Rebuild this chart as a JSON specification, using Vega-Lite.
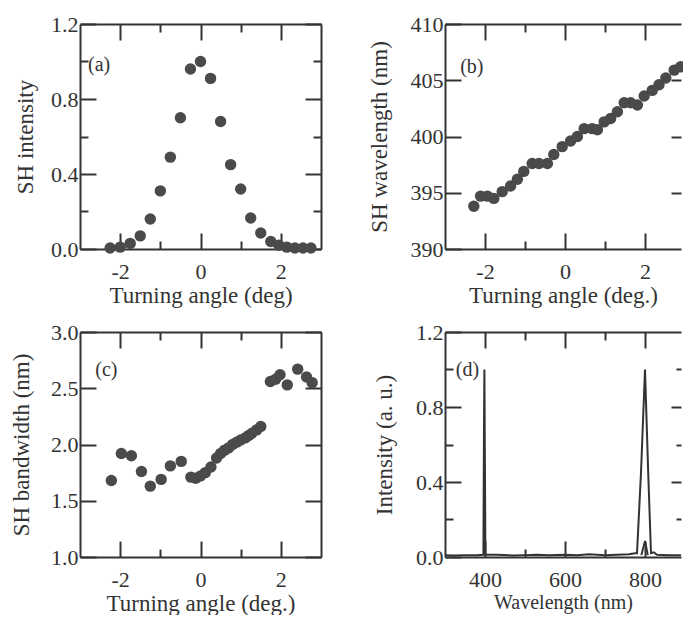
{
  "$schema": "https://vega.github.io/schema/vega-lite/v6.json",
  "background": "white",
  "padding": {"left": 10, "top": 13, "right": 0, "bottom": 0},
  "columns": 2,
  "spacing": {"row": 83, "column": 124},
  "bounds": "flush",
  "config": {
    "font": "Liberation Serif",
    "view": {"stroke": null},
    "axis": {
      "labelFont": "Liberation Serif", "labelFontSize": 22, "labelColor": "#333",
      "titleFont": "Liberation Serif", "titleFontSize": 23, "titleFontWeight": "normal", "titleColor": "#333",
      "domainColor": "#333", "domainWidth": 2, "tickColor": "#333", "tickWidth": 2,
      "grid": false, "labelOverlap": false, "labelFlush": false
    },
    "axisX": {"labelPadding": 28, "titlePadding": -6},
    "axisY": {"labelPadding": 18, "titlePadding": 13}
  },
  "concat": [
    {
      "width": 241, "height": 225,
      "layer": [
        {
          "data": {"values": [
            {"angle": -2.25, "intensity": 0.005}, {"angle": -2.0, "intensity": 0.01}, {"angle": -1.75, "intensity": 0.03},
            {"angle": -1.5, "intensity": 0.07}, {"angle": -1.25, "intensity": 0.16}, {"angle": -1.0, "intensity": 0.31},
            {"angle": -0.75, "intensity": 0.49}, {"angle": -0.5, "intensity": 0.70}, {"angle": -0.25, "intensity": 0.96},
            {"angle": 0.0, "intensity": 1.0}, {"angle": 0.25, "intensity": 0.91}, {"angle": 0.5, "intensity": 0.68},
            {"angle": 0.75, "intensity": 0.45}, {"angle": 1.0, "intensity": 0.32}, {"angle": 1.25, "intensity": 0.165},
            {"angle": 1.5, "intensity": 0.085}, {"angle": 1.75, "intensity": 0.04}, {"angle": 1.95, "intensity": 0.02},
            {"angle": 2.15, "intensity": 0.01}, {"angle": 2.35, "intensity": 0.005}, {"angle": 2.55, "intensity": 0.005},
            {"angle": 2.75, "intensity": 0.005}
          ]},
          "mark": {"type": "circle", "size": 130, "fill": "#4a4a4a", "opacity": 1},
          "encoding": {
            "x": {"field": "angle", "type": "quantitative", "scale": {"domain": [-3, 3], "nice": false, "zero": false},
              "axis": {"orient": "bottom", "values": [-2, -1, 0, 1, 2],
                "tickSize": {"condition": {"test": "abs(datum.value) % 2 === 0", "value": -16}, "value": -8},
                "labelExpr": "abs(datum.value) % 2 === 0 ? '' + datum.value : ''", "title": "Turning angle (deg)"}},
            "y": {"field": "intensity", "type": "quantitative", "scale": {"domain": [0, 1.2], "nice": false},
              "axis": {"orient": "left", "values": [0, 0.2, 0.4, 0.6, 0.8, 1.0, 1.2],
                "tickSize": {"condition": {"test": "round(datum.value * 10) % 4 === 0", "value": -16}, "value": -8},
                "labelExpr": "round(datum.value * 10) % 4 === 0 ? format(datum.value, '.1f') : ''", "title": "SH intensity"}}
          }
        },
        {
          "data": {"values": [{"t": "(a)"}]},
          "mark": {"type": "text", "align": "left", "baseline": "middle", "fontSize": 20, "font": "Liberation Serif", "color": "#333"},
          "encoding": {
            "x": {"datum": -2.8, "type": "quantitative", "axis": null},
            "y": {"datum": 0.98, "type": "quantitative", "axis": null},
            "text": {"field": "t"}
          }
        },
        {
          "data": {"values": [{"a": 0, "b": 0}]},
          "mark": {"type": "point", "opacity": 0},
          "encoding": {
            "x": {"field": "a", "type": "quantitative",
              "axis": {"orient": "top", "values": [-2, -1, 0, 1, 2], "labels": false, "title": null,
                "tickSize": {"condition": {"test": "abs(datum.value) % 2 === 0", "value": -16}, "value": -8}}},
            "y": {"field": "b", "type": "quantitative",
              "axis": {"orient": "right", "values": [0, 0.2, 0.4, 0.6, 0.8, 1.0, 1.2], "labels": false, "title": null,
                "tickSize": {"condition": {"test": "round(datum.value * 10) % 4 === 0", "value": -16}, "value": -8}}}
          }
        }
      ],
      "resolve": {"axis": {"x": "independent", "y": "independent"}}
    },
    {
      "width": 236, "height": 225,
      "layer": [
        {
          "data": {"values": [
            {"angle": -2.28, "wl": 393.8}, {"angle": -2.11, "wl": 394.7}, {"angle": -1.94, "wl": 394.7},
            {"angle": -1.78, "wl": 394.5}, {"angle": -1.57, "wl": 395.1}, {"angle": -1.36, "wl": 395.6},
            {"angle": -1.19, "wl": 396.2}, {"angle": -1.03, "wl": 396.9}, {"angle": -0.82, "wl": 397.6},
            {"angle": -0.65, "wl": 397.6}, {"angle": -0.44, "wl": 397.6}, {"angle": -0.28, "wl": 398.4},
            {"angle": -0.07, "wl": 399.1}, {"angle": 0.14, "wl": 399.6}, {"angle": 0.31, "wl": 400.0},
            {"angle": 0.48, "wl": 400.7}, {"angle": 0.68, "wl": 400.7}, {"angle": 0.81, "wl": 400.6},
            {"angle": 0.98, "wl": 401.3}, {"angle": 1.14, "wl": 401.6}, {"angle": 1.31, "wl": 402.2},
            {"angle": 1.48, "wl": 403.0}, {"angle": 1.64, "wl": 403.0}, {"angle": 1.81, "wl": 402.8},
            {"angle": 1.98, "wl": 403.6}, {"angle": 2.18, "wl": 404.1}, {"angle": 2.35, "wl": 404.6},
            {"angle": 2.52, "wl": 405.2}, {"angle": 2.73, "wl": 405.9}, {"angle": 2.89, "wl": 406.2}
          ]},
          "mark": {"type": "circle", "size": 130, "fill": "#4a4a4a", "opacity": 1},
          "encoding": {
            "x": {"field": "angle", "type": "quantitative", "scale": {"domain": [-3, 2.9], "nice": false, "zero": false},
              "axis": {"orient": "bottom", "values": [-2, -1, 0, 1, 2],
                "tickSize": {"condition": {"test": "abs(datum.value) % 2 === 0", "value": -16}, "value": -8},
                "labelExpr": "abs(datum.value) % 2 === 0 ? '' + datum.value : ''", "title": "Turning angle (deg.)"}},
            "y": {"field": "wl", "type": "quantitative", "scale": {"domain": [390, 410], "nice": false, "zero": false},
              "axis": {"orient": "left", "values": [390, 395, 400, 405, 410], "tickSize": -16, "title": "SH wavelength (nm)", "titlePadding": 19}}
          }
        },
        {
          "data": {"values": [{"t": "(b)"}]},
          "mark": {"type": "text", "align": "left", "baseline": "middle", "fontSize": 20, "font": "Liberation Serif", "color": "#333"},
          "encoding": {
            "x": {"datum": -2.62, "type": "quantitative", "axis": null},
            "y": {"datum": 406.2, "type": "quantitative", "axis": null},
            "text": {"field": "t"}
          }
        },
        {
          "data": {"values": [{"a": 0, "b": 400}]},
          "mark": {"type": "point", "opacity": 0},
          "encoding": {
            "x": {"field": "a", "type": "quantitative",
              "axis": {"orient": "top", "values": [-2, -1, 0, 1, 2], "labels": false, "title": null,
                "tickSize": {"condition": {"test": "abs(datum.value) % 2 === 0", "value": -16}, "value": -8}}},
            "y": {"field": "b", "type": "quantitative",
              "axis": {"orient": "right", "values": [395, 400, 405], "labels": false, "title": null, "domain": false, "tickSize": -10}}
          }
        }
      ],
      "resolve": {"axis": {"x": "independent", "y": "independent"}}
    },
    {
      "width": 241, "height": 225,
      "layer": [
        {
          "data": {"values": [
            {"angle": -2.22, "bw": 1.68}, {"angle": -1.97, "bw": 1.92}, {"angle": -1.72, "bw": 1.90},
            {"angle": -1.47, "bw": 1.76}, {"angle": -1.25, "bw": 1.63}, {"angle": -0.98, "bw": 1.69},
            {"angle": -0.75, "bw": 1.81}, {"angle": -0.48, "bw": 1.85}, {"angle": -0.24, "bw": 1.71},
            {"angle": -0.12, "bw": 1.70}, {"angle": 0.0, "bw": 1.72}, {"angle": 0.12, "bw": 1.75},
            {"angle": 0.26, "bw": 1.80}, {"angle": 0.4, "bw": 1.88}, {"angle": 0.5, "bw": 1.92},
            {"angle": 0.6, "bw": 1.95}, {"angle": 0.7, "bw": 1.97}, {"angle": 0.8, "bw": 2.0},
            {"angle": 0.9, "bw": 2.02}, {"angle": 1.0, "bw": 2.04}, {"angle": 1.12, "bw": 2.06},
            {"angle": 1.2, "bw": 2.08}, {"angle": 1.28, "bw": 2.10}, {"angle": 1.4, "bw": 2.13},
            {"angle": 1.5, "bw": 2.16}, {"angle": 1.74, "bw": 2.56}, {"angle": 1.87, "bw": 2.58},
            {"angle": 1.98, "bw": 2.62}, {"angle": 2.16, "bw": 2.53}, {"angle": 2.42, "bw": 2.67},
            {"angle": 2.64, "bw": 2.60}, {"angle": 2.78, "bw": 2.55}
          ]},
          "mark": {"type": "circle", "size": 130, "fill": "#4a4a4a", "opacity": 1},
          "encoding": {
            "x": {"field": "angle", "type": "quantitative", "scale": {"domain": [-3, 3], "nice": false, "zero": false},
              "axis": {"orient": "bottom", "values": [-2, -1, 0, 1, 2],
                "tickSize": {"condition": {"test": "abs(datum.value) % 2 === 0", "value": -16}, "value": -8},
                "labelExpr": "abs(datum.value) % 2 === 0 ? '' + datum.value : ''", "title": "Turning angle (deg.)"}},
            "y": {"field": "bw", "type": "quantitative", "scale": {"domain": [1, 3], "nice": false, "zero": false},
              "axis": {"orient": "left", "values": [1, 1.5, 2, 2.5, 3], "tickSize": -16,
                "labelExpr": "format(datum.value, '.1f')", "title": "SH bandwidth (nm)", "titlePadding": 17}}
          }
        },
        {
          "data": {"values": [{"t": "(c)"}]},
          "mark": {"type": "text", "align": "left", "baseline": "middle", "fontSize": 20, "font": "Liberation Serif", "color": "#333"},
          "encoding": {
            "x": {"datum": -2.62, "type": "quantitative", "axis": null},
            "y": {"datum": 2.66, "type": "quantitative", "axis": null},
            "text": {"field": "t"}
          }
        },
        {
          "data": {"values": [{"a": 0, "b": 2}]},
          "mark": {"type": "point", "opacity": 0},
          "encoding": {
            "x": {"field": "a", "type": "quantitative",
              "axis": {"orient": "top", "values": [-2, -1, 0, 1, 2], "labels": false, "title": null,
                "tickSize": {"condition": {"test": "abs(datum.value) % 2 === 0", "value": -16}, "value": -8}}},
            "y": {"field": "b", "type": "quantitative",
              "axis": {"orient": "right", "values": [1, 1.5, 2, 2.5, 3], "labels": false, "title": null, "tickSize": -16}}
          }
        }
      ],
      "resolve": {"axis": {"x": "independent", "y": "independent"}}
    },
    {
      "width": 236, "height": 225,
      "layer": [
        {
          "data": {"values": [
            {"wl": 300, "v": 0.01, "s": "a"}, {"wl": 320, "v": 0.008, "s": "a"}, {"wl": 350, "v": 0.01, "s": "a"},
            {"wl": 380, "v": 0.01, "s": "a"}, {"wl": 396, "v": 0.012, "s": "a"}, {"wl": 397.5, "v": 0.7, "s": "a"},
            {"wl": 398.5, "v": 1.0, "s": "a"}, {"wl": 399.5, "v": 0.6, "s": "a"}, {"wl": 401, "v": 0.012, "s": "a"},
            {"wl": 430, "v": 0.012, "s": "a"}, {"wl": 470, "v": 0.008, "s": "a"}, {"wl": 500, "v": 0.01, "s": "a"},
            {"wl": 530, "v": 0.012, "s": "a"}, {"wl": 560, "v": 0.01, "s": "a"}, {"wl": 600, "v": 0.012, "s": "a"},
            {"wl": 630, "v": 0.01, "s": "a"}, {"wl": 660, "v": 0.015, "s": "a"}, {"wl": 700, "v": 0.01, "s": "a"},
            {"wl": 730, "v": 0.012, "s": "a"}, {"wl": 760, "v": 0.015, "s": "a"}, {"wl": 775, "v": 0.02, "s": "a"},
            {"wl": 780, "v": 0.02, "s": "a"}, {"wl": 790, "v": 0.45, "s": "a"}, {"wl": 800, "v": 1.0, "s": "a"},
            {"wl": 808, "v": 0.45, "s": "a"}, {"wl": 815, "v": 0.02, "s": "a"}, {"wl": 822, "v": 0.025, "s": "a"},
            {"wl": 830, "v": 0.012, "s": "a"}, {"wl": 860, "v": 0.01, "s": "a"}, {"wl": 890, "v": 0.01, "s": "a"},
            {"wl": 791, "v": 0.01, "s": "b"}, {"wl": 800, "v": 0.085, "s": "b"}, {"wl": 807, "v": 0.01, "s": "b"}
          ]},
          "mark": {"type": "line", "color": "#333", "strokeWidth": 2},
          "encoding": {
            "x": {"field": "wl", "type": "quantitative", "scale": {"domain": [300, 890], "nice": false, "zero": false},
              "axis": {"orient": "bottom", "values": [400, 500, 600, 700, 800],
                "tickSize": {"condition": {"test": "datum.value % 200 === 0", "value": -16}, "value": -8},
                "labelExpr": "datum.value % 200 === 0 ? '' + datum.value : ''", "title": "Wavelength (nm)", "titleFontSize": 20}},
            "y": {"field": "v", "type": "quantitative", "scale": {"domain": [0, 1.2], "nice": false},
              "axis": {"orient": "left", "values": [0, 0.2, 0.4, 0.6, 0.8, 1.0, 1.2],
                "tickSize": {"condition": {"test": "round(datum.value * 10) % 4 === 0", "value": -16}, "value": -8},
                "labelExpr": "round(datum.value * 10) % 4 === 0 ? format(datum.value, '.1f') : ''", "title": "Intensity (a. u.)", "titlePadding": 19}},
            "detail": {"field": "s", "type": "nominal"}
          }
        },
        {
          "data": {"values": [{"t": "(d)"}]},
          "mark": {"type": "text", "align": "left", "baseline": "middle", "fontSize": 20, "font": "Liberation Serif", "color": "#333"},
          "encoding": {
            "x": {"datum": 327, "type": "quantitative", "axis": null},
            "y": {"datum": 1.0, "type": "quantitative", "axis": null},
            "text": {"field": "t"}
          }
        },
        {
          "data": {"values": [{"a": 600, "b": 0.5}]},
          "mark": {"type": "point", "opacity": 0},
          "encoding": {
            "x": {"field": "a", "type": "quantitative",
              "axis": {"orient": "top", "values": [400, 500, 600, 700, 800], "labels": false, "title": null,
                "tickSize": {"condition": {"test": "datum.value % 200 === 0", "value": -16}, "value": -8}}},
            "y": {"field": "b", "type": "quantitative",
              "axis": {"orient": "right", "values": [0.2, 0.4, 0.6, 0.8, 1.0], "labels": false, "title": null, "domain": false,
                "tickSize": {"condition": {"test": "round(datum.value * 10) % 4 === 0", "value": -10}, "value": -5}}}
          }
        }
      ],
      "resolve": {"axis": {"x": "independent", "y": "independent"}}
    }
  ]
}
